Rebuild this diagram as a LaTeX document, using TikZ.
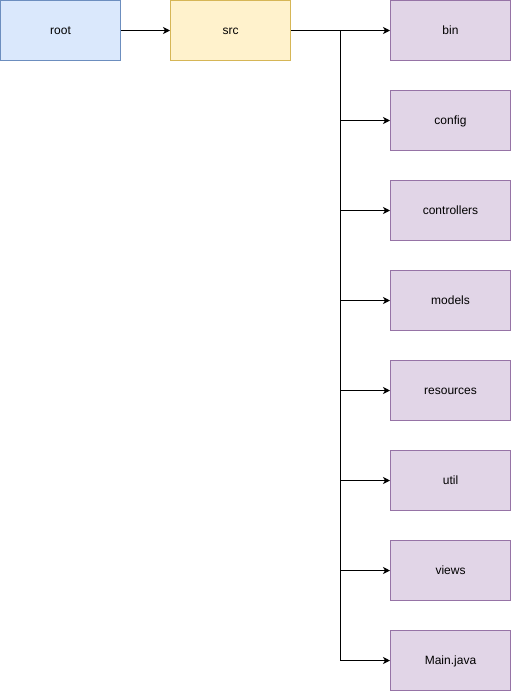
\documentclass[tikz,border=0pt]{standalone}
\usepackage{fontspec}
\setmainfont{Liberation Sans}
\usetikzlibrary{arrows.meta}
\definecolor{rootfill}{HTML}{DAE8FC}
\definecolor{rootline}{HTML}{6C8EBF}
\definecolor{srcfill}{HTML}{FFF2CC}
\definecolor{srcline}{HTML}{D6B656}
\definecolor{dirfill}{HTML}{E1D5E7}
\definecolor{dirline}{HTML}{9673A6}
\tikzset{
	box/.style={rectangle,draw,line width=1pt,minimum width=120pt,minimum height=60pt,inner sep=0pt,text height=11pt,text depth=3pt,font=\fontsize{12}{14}\selectfont},
	rootbox/.style={box,fill=rootfill,draw=rootline},
	srcbox/.style={box,fill=srcfill,draw=srcline},
	dirbox/.style={box,fill=dirfill,draw=dirline},
	arr/.style={line width=1pt,-{Stealth[length=7pt,width=7pt,inset=2pt]}}
}

\begin{document}
\begin{tikzpicture}[x=1pt,y=-1pt]
		\useasboundingbox (0,0) rectangle (511,691);
		\node[rootbox] (root) at (60.5,30.5) {root};
		\node[srcbox] (src) at (230.5,30.5) {src};
		\coordinate (split) at (340.5,30.5);% trunk
		\draw [arr] (root) -- (src);
		
		\foreach \name/\txt [count=\i from 0] in {bin/bin,config/config,controllers/controllers,models/models,resources/resources,util/util,views/views,main/Main.java}{
			\node[dirbox] (\name) at (450.5,30.5+90*\i) {\txt};
			\draw [arr] (src.east) -- (split) |- (\name.west);
		}
\end{tikzpicture}
\end{document}
